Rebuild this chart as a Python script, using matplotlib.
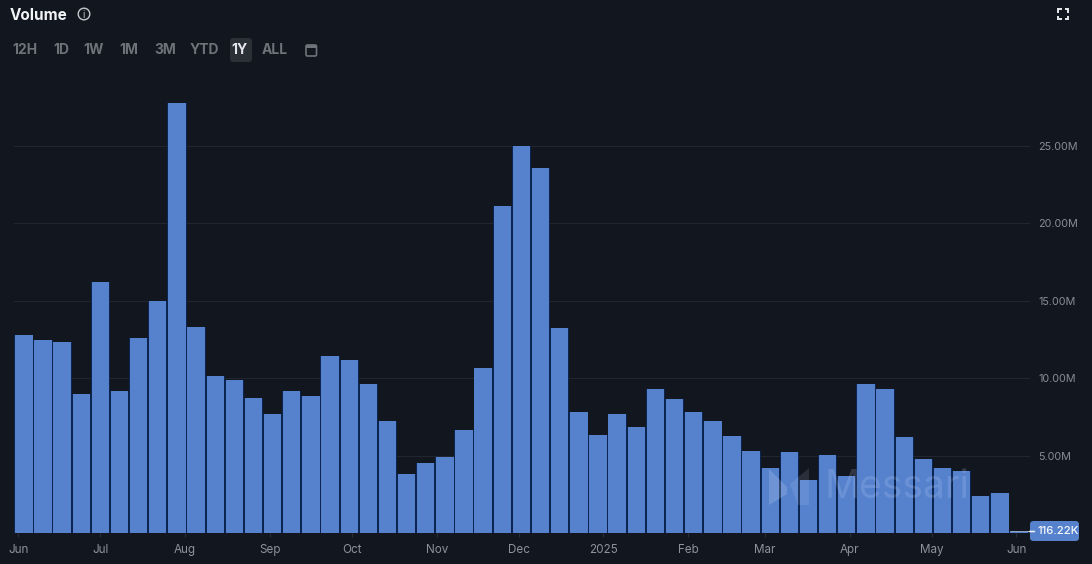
import pandas as pd
import matplotlib
matplotlib.use('Agg')
import matplotlib.pyplot as plt
import matplotlib.dates as mdates
from matplotlib.patches import FancyBboxPatch, Circle, Polygon, Rectangle

# Weekly volume in millions
volume = [12.8, 12.45, 12.35, 8.95, 16.2, 9.15, 12.6, 15.0, 27.8, 13.3,
          10.15, 9.9, 8.7, 7.7, 9.2, 8.85, 11.45, 11.15, 9.6, 7.25,
          3.8, 4.5, 4.9, 6.65, 10.65, 21.1, 25.0, 23.6, 13.25, 7.8,
          6.3, 7.7, 6.85, 9.3, 8.65, 7.8, 7.25, 6.25, 5.3, 4.2,
          5.25, 3.45, 5.05, 3.7, 9.6, 9.3, 6.2, 4.75, 4.2, 4.0,
          2.4, 2.6, 0.11622]
weeks = pd.date_range('2024-06-03', periods=len(volume), freq='7D')

month_ticks = ['2024-06-01', '2024-07-01', '2024-08-01', '2024-09-01', '2024-10-01',
               '2024-11-01', '2024-12-01', '2025-01-01', '2025-02-01', '2025-03-01',
               '2025-04-01', '2025-05-01', '2025-06-01']
month_labels = ['Jun', 'Jul', 'Aug', 'Sep', 'Oct', 'Nov', 'Dec', '2025',
                'Feb', 'Mar', 'Apr', 'May', 'Jun']
y_ticks = [5, 10, 15, 20, 25]
y_labels = ['5.00M', '10.00M', '15.00M', '20.00M', '25.00M']
range_buttons = ['12H', '1D', '1W', '1M', '3M', 'YTD', '1Y', 'ALL']
button_x = [25, 61, 94, 129, 165, 204, 240, 275]

W, H = 1092, 564
BG = '#11161f'
BLUE = '#5682cd'
plt.rcParams['font.family'] = ['Inter', 'DejaVu Sans']

fig = plt.figure(figsize=(W / 100, H / 100), dpi=100, facecolor=BG)
ax = fig.add_axes([14 / W, 1 - 533 / H, (1030 - 14) / W, (533 - 70) / H], facecolor=BG)

# dark halo first, it shows as the navy seam between neighbouring bars
ax.bar(weeks, volume, width=7.0, color='#0c2450', linewidth=0, zorder=2)
ax.bar(weeks, volume, width=6.35, color=BLUE, linewidth=0, zorder=3)

start = pd.Timestamp('2024-06-03')
ax.set_xlim(mdates.date2num(start) - 3.6, mdates.date2num(start) + 368)
ax.set_ylim(0, (533 - 70) / 15.48)
for s in ax.spines.values():
    s.set_visible(False)

ax.set_xticks(mdates.date2num(pd.to_datetime(month_ticks)))
ax.set_xticklabels(month_labels)
ax.tick_params(axis='x', length=3, width=0.8, color='#2a2f38', labelcolor='#8d929b',
               labelsize=8.4, pad=5)
ax.set_yticks(y_ticks)
ax.set_yticklabels(y_labels)
ax.yaxis.tick_right()
ax.tick_params(axis='y', length=0, labelcolor='#878c95', labelsize=7.8, pad=6)
ax.grid(axis='y', color='#22272f', linewidth=0.8, zorder=1)
ax.set_axisbelow(True)

# overlay in pixel coordinates for the page furniture around the chart
ui = fig.add_axes([0, 0, 1, 1], facecolor='none')
ui.set_xlim(0, W)
ui.set_ylim(H, 0)
ui.axis('off')

ui.text(10, 15, 'Volume', color='#f2f3f5', fontsize=11, fontweight='bold', va='center')
ui.add_patch(Circle((84, 14), 5.8, fill=False, edgecolor='#c4c7cc', linewidth=1))
ui.text(84, 14.5, 'i', color='#c4c7cc', fontsize=7, ha='center', va='center')

ui.add_patch(FancyBboxPatch((230, 38), 22, 24, boxstyle='round,pad=0,rounding_size=3',
                            facecolor='#2b2f36', edgecolor='none'))
for label, x in zip(range_buttons, button_x):
    color = '#e6e7ea' if label == '1Y' else '#6e7279'
    ui.text(x, 50.5, label, color=color, fontsize=10, fontweight='bold', ha='center', va='center')

# calendar icon
ui.add_patch(FancyBboxPatch((306, 45), 10.5, 11, boxstyle='round,pad=0,rounding_size=1.5',
                            fill=False, edgecolor='#6e7279', linewidth=1.2))
ui.add_patch(Rectangle((306, 45), 10.5, 3, facecolor='#6e7279', edgecolor='none'))

# fullscreen icon
for cx, cy, dx, dy in [(1058, 9, 1, 1), (1068, 9, -1, 1), (1058, 19, 1, -1), (1068, 19, -1, -1)]:
    ui.plot([cx + 3.5 * dx, cx, cx], [cy, cy, cy + 3.5 * dy], color='#e8eaee', linewidth=1.4,
            solid_capstyle='butt', solid_joinstyle='miter')

# watermark
ui.text(825, 488, 'Messari', color='#cfe0ff', alpha=0.17, fontsize=28, va='center', ha='left')
ui.add_patch(Polygon([(769, 469), (787, 487), (787, 494), (769, 505)], facecolor='#cfe0ff', alpha=0.2))
ui.add_patch(Polygon([(790, 484), (809, 468), (809, 505), (798, 505)], facecolor='#cfe0ff', alpha=0.12))

# last value tag
ui.add_patch(Rectangle((1011, 530.6), 18, 1.6, facecolor='#8fa0bc', edgecolor='none'))
ui.plot([1029, 1033], [531.4, 531.4], color='#e8eef8', linewidth=1)
ui.add_patch(FancyBboxPatch((1030, 521), 49, 20, boxstyle='round,pad=0,rounding_size=3.5',
                            facecolor=BLUE, edgecolor='none'))
ui.plot([1030, 1034], [531.4, 531.4], color='#e8eef8', linewidth=1)
ui.text(1058.5, 531.5, '116.22K', color='#f4f6fa', fontsize=8.2, fontweight='medium',
        ha='center', va='center')

fig.savefig('out.png', dpi=100, facecolor=BG)
